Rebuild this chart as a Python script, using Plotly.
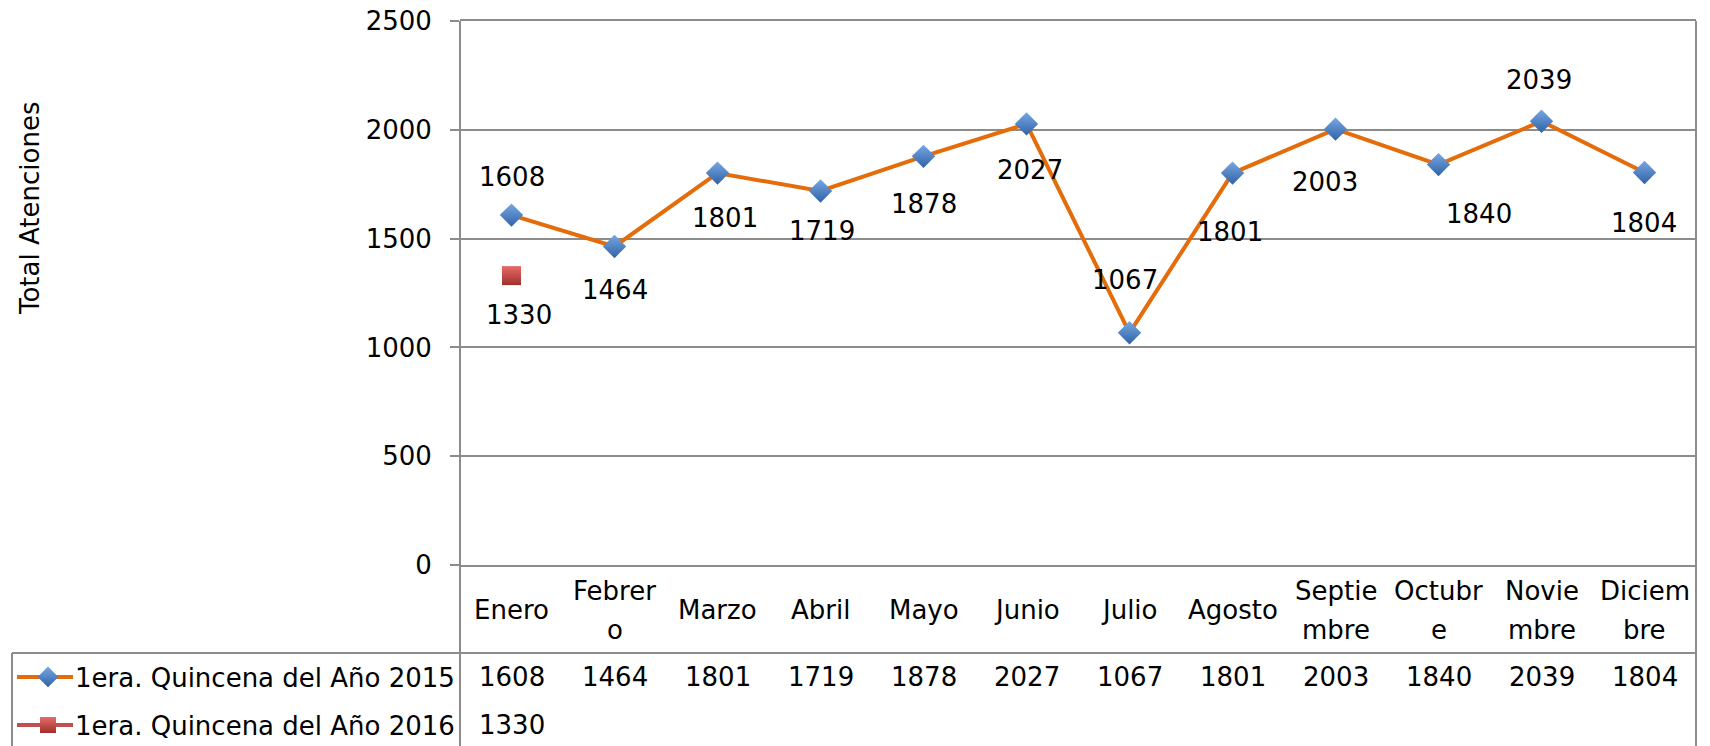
import plotly.graph_objects as go

# ---------------- data ----------------
months = ["Enero", "Febrer<br>o", "Marzo", "Abril", "Mayo", "Junio", "Julio",
          "Agosto", "Septie<br>mbre", "Octubr<br>e", "Novie<br>mbre", "Diciem<br>bre"]
serie_2015 = [1608, 1464, 1801, 1719, 1878, 2027, 1067, 1801, 2003, 1840, 2039, 1804]
serie_2016 = [1330]
name_2015 = "1era. Quincena del Año 2015"
name_2016 = "1era. Quincena del Año 2016"
y_ticks = [0, 500, 1000, 1500, 2000, 2500]
y_title = "Total Atenciones"

# ---------------- style / layout ----------------
W, H = 1710, 746
L, R, T, B = 460, 14, 21, 181
PW, PH = W - L - R, H - T - B
FONT = "DejaVu Sans"
FS = 26
GRID = "#8C8C8C"
ORANGE = "#E46C0A"
RED = "#C0504D"

def py(p):  # pixel row (from top) -> paper y
    return (H - B - p) / PH

def px(p):  # pixel column -> paper x
    return (p - L) / PW

# label offsets (x, y in px) for data labels
shift_2015 = [(0, 38), (0, -44), (7, -45), (1, -40), (0, -48), (3, -46),
              (-5, 53), (-3, -59), (-11, -53), (40, -49), (-3, 41), (-1, -51)]
shift_2016 = [(7, -39)]

fig = go.Figure()
fig.add_trace(go.Scatter(
    x=months, y=serie_2015, mode="lines+markers", name=name_2015,
    line=dict(color=ORANGE, width=4),
    marker=dict(symbol="diamond", size=18, color="#78A7E3",
                gradient=dict(type="vertical", color="#2F62A6"),
                line=dict(width=0)),
    legend="legend", hoverinfo="skip"))
fig.add_trace(go.Scatter(
    x=months[:len(serie_2016)], y=serie_2016, mode="lines+markers", name=name_2016,
    line=dict(color=RED, width=4),
    marker=dict(symbol="square", size=19, color="#E56B67",
                gradient=dict(type="vertical", color="#A0302D"),
                line=dict(width=0)),
    legend="legend2", hoverinfo="skip"))

font = dict(family=FONT, size=FS, color="#000000")
ann = []
for m, v, (dx, dy) in zip(months, serie_2015, shift_2015):
    ann.append(dict(x=m, y=v, xref="x", yref="y", text=str(v), showarrow=False,
                    xshift=dx, yshift=dy, font=font))
for m, v, (dx, dy) in zip(months, serie_2016, shift_2016):
    ann.append(dict(x=m, y=v, xref="x", yref="y", text=str(v), showarrow=False,
                    xshift=dx, yshift=dy, font=font))

# category labels
for m in months:
    lines = m.split("<br>")
    if len(lines) == 1:
        shifts = [0]
    else:
        shifts = [19.5, -19.5]
    for t, s in zip(lines, shifts):
        ann.append(dict(x=m, y=py(610), xref="x", yref="paper", text=t, showarrow=False,
                        yanchor="middle", yshift=s, font=font))

# table values
for m, v in zip(months, serie_2015):
    ann.append(dict(x=m, y=py(677), xref="x", yref="paper", text=str(v), showarrow=False,
                    yanchor="middle", font=font))
for m, v in zip(months, serie_2016):
    ann.append(dict(x=m, y=py(725), xref="x", yref="paper", text=str(v), showarrow=False,
                    yanchor="middle", font=font))

# y axis title
ann.append(dict(x=px(30), y=py(209), xref="paper", yref="paper", text=y_title,
                showarrow=False, textangle=-90, xanchor="center", yanchor="middle",
                font=dict(family=FONT, size=FS, color="#000000")))

shapes = [
    dict(type="line", xref="paper", yref="paper", x0=0, x1=0, y0=1, y1=py(746),
         line=dict(color=GRID, width=2)),
    dict(type="line", xref="paper", yref="paper", x0=1, x1=1, y0=1, y1=py(746),
         line=dict(color=GRID, width=2)),
    dict(type="line", xref="paper", yref="paper", x0=px(12), x1=1, y0=py(653), y1=py(653),
         line=dict(color=GRID, width=2)),
    dict(type="line", xref="paper", yref="paper", x0=px(12), x1=px(12), y0=py(653), y1=py(746),
         line=dict(color=GRID, width=2)),
    # legend key lines
    dict(type="line", xref="paper", yref="paper", x0=px(17), x1=px(73), y0=py(677), y1=py(677),
         line=dict(color=ORANGE, width=4), layer="below"),
    dict(type="line", xref="paper", yref="paper", x0=px(17), x1=px(73), y0=py(725), y1=py(725),
         line=dict(color=RED, width=4), layer="below"),
]

leg_common = dict(xanchor="left", yanchor="middle", bgcolor="rgba(0,0,0,0)",
                  borderwidth=0, font=dict(family=FONT, size=FS, color="#000000"),
                  itemsizing="trace", itemwidth=44)

fig.update_layout(
    width=W, height=H, margin=dict(l=L, r=R, t=T, b=B, pad=0, autoexpand=False),
    paper_bgcolor="white", plot_bgcolor="white",
    font=dict(family=FONT, size=FS, color="#000000"),
    showlegend=True,
    legend=dict(x=px(21), y=py(677), **leg_common),
    legend2=dict(x=px(21), y=py(725), **leg_common),
    xaxis=dict(type="category", range=[-0.5, 11.5], showticklabels=False, showgrid=False,
               showline=True, mirror=True, linecolor=GRID, linewidth=2, ticks="",
               zeroline=False, fixedrange=True),
    yaxis=dict(range=[0, 2500], tickvals=y_ticks, showgrid=True, gridcolor=GRID, gridwidth=2,
               ticks="outside", ticklen=9, tickwidth=2, tickcolor=GRID, ticklabelstandoff=13,
               tickfont=dict(family=FONT, size=FS, color="#000000"),
               zeroline=False, showline=False, fixedrange=True),
    annotations=ann, shapes=shapes,
)

fig.write_html("out.html", include_plotlyjs=True, config={"displayModeBar": False},
               post_script="document.body.style.margin='0';")
